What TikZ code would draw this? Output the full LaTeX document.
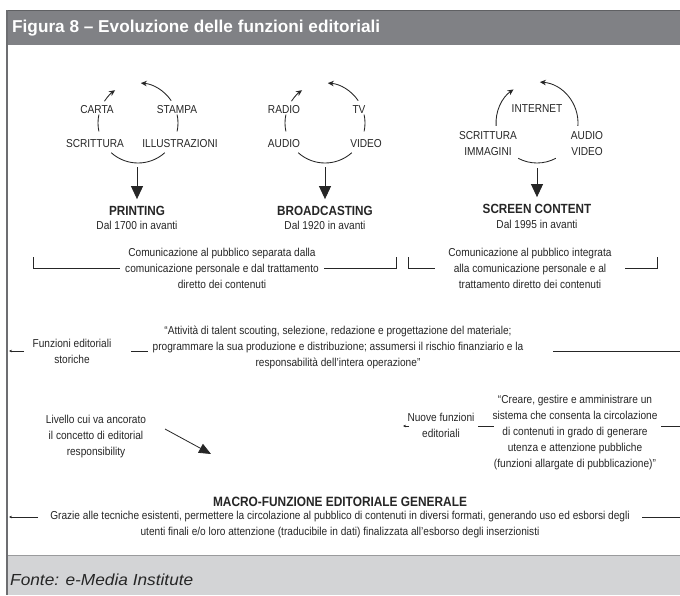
\documentclass[tikz,border=0pt]{standalone}
\usepackage{fontspec}
\setmainfont{Liberation Sans}
\newfontfamily\bodyfont{Liberation Sans}[FakeStretch=0.88]
\newfontfamily\footfont{Liberation Sans}[FakeStretch=1.08]
\usetikzlibrary{arrows.meta}
\definecolor{hdr}{HTML}{808185}
\definecolor{hdrtop}{HTML}{5F6063}
\definecolor{ftr}{HTML}{D3D4D6}
\definecolor{ftrtop}{HTML}{9A9B9D}
\definecolor{ink}{HTML}{262626}
\definecolor{brd}{HTML}{6D6E71}
\begin{document}
\begin{tikzpicture}[x=1pt,y=1pt,
  txt/.style={font=\bodyfont\fontsize{11.5}{16}\selectfont, text=ink, inner sep=0pt, align=center},
  ttl/.style={font=\bodyfont\bfseries\fontsize{13.3}{16}\selectfont, text=ink, inner sep=0pt},
  ln/.style={draw=ink, line width=0.6pt},
  cyc/.style={draw=ink, line width=0.85pt},
  cyca/.style={cyc, -{Stealth[length=6pt,width=5.5pt]}},
  bigarrow/.style={draw=ink, line width=0.9pt, -{Triangle[length=13pt,width=12pt]}},
  tiparrow/.style={ln, -{Stealth[length=3pt,width=2.6pt]}}]

\useasboundingbox (0,0) rectangle (680,-595);
\fill[white] (0,0) rectangle (680,-595);

% header and footer
\fill[hdr] (7,-10) rectangle (680,-45);
\draw[hdrtop, line width=0.8pt] (7,-10.4) -- (680,-10.4);
\fill[ftr] (7,-555) rectangle (680,-595);
\draw[ftrtop, line width=0.8pt] (7,-555) -- (680,-555);
\draw[brd, line width=1.2pt] (7,-10) -- (7,-595);

\node[anchor=base west, inner sep=0pt, text=white, font=\bfseries\fontsize{17.2}{18}\selectfont] (title) at (12,-32.5) {Figura 8 – Evoluzione delle funzioni editoriali};
\node[anchor=base west, inner sep=0pt, text=ink, font=\footfont\itshape\fontsize{16}{18}\selectfont] (fonte) at (10,-585) {Fonte: e-Media Institute};

% ---------- cycle 1: printing
\coordinate (c1) at (138,-123);
\node[txt] (carta) at (97,-110) {CARTA};
\node[txt] (stampa) at (177,-110) {STAMPA};
\node[txt] (scrit1) at (95,-144) {SCRITTURA};
\node[txt] (illu) at (180,-144) {ILLUSTRAZIONI};
\draw[cyca] ([shift={(34:40pt)}]c1) arc[start angle=34, end angle=86, radius=40pt];
\draw[cyca] ([shift={(147:40pt)}]c1) arc[start angle=147, end angle=125, radius=40pt];
\draw[cyc] ([shift={(168:40pt)}]c1) arc[start angle=168, end angle=192, radius=40pt];
\draw[cyc] ([shift={(-12:40pt)}]c1) arc[start angle=-12, end angle=12, radius=40pt];
\draw[cyc] ([shift={(-132:40pt)}]c1) arc[start angle=-132, end angle=-48, radius=40pt];
\node[ttl] (printing) at (137,-211) {PRINTING};
\node[txt] (dal1) at (137,-225) {Dal 1700 in avanti};
\coordinate (a1) at (137,-167);
\draw[bigarrow] (a1) -- ([yshift=7pt]printing.north);

% ---------- cycle 2: broadcasting
\coordinate (c2) at (325,-123);
\node[txt] (radio) at (284,-110) {RADIO};
\node[txt] (tv) at (359,-110) {TV};
\node[txt] (audio2) at (284,-144) {AUDIO};
\node[txt] (video2) at (366,-144) {VIDEO};
\draw[cyca] ([shift={(34:40pt)}]c2) arc[start angle=34, end angle=86, radius=40pt];
\draw[cyca] ([shift={(147:40pt)}]c2) arc[start angle=147, end angle=125, radius=40pt];
\draw[cyc] ([shift={(168:40pt)}]c2) arc[start angle=168, end angle=192, radius=40pt];
\draw[cyc] ([shift={(-12:40pt)}]c2) arc[start angle=-12, end angle=12, radius=40pt];
\draw[cyc] ([shift={(-132:40pt)}]c2) arc[start angle=-132, end angle=-48, radius=40pt];
\node[ttl] (broad) at (325,-211) {BROADCASTING};
\node[txt] (dal2) at (325,-225) {Dal 1920 in avanti};
\coordinate (a2) at (325,-167);
\draw[bigarrow] (a2) -- ([yshift=7pt]broad.north);

% ---------- cycle 3: screen content
\coordinate (c3) at (537,-123);
\node[txt] (internet) at (537,-109) {INTERNET};
\node[txt] (scrit3) at (488,-144) {SCRITTURA\\IMMAGINI};
\node[txt] (audio3) at (587,-144) {AUDIO\\VIDEO};
\draw[cyca] ([shift={(184:41pt)}]c3) arc[start angle=184, end angle=125, radius=41pt];
\draw[cyca] ([shift={(-4:41pt)}]c3) arc[start angle=-4, end angle=86, radius=41pt];
\draw[cyc] ([shift={(-118:40pt)}]c3) arc[start angle=-118, end angle=-62, radius=40pt];
\node[ttl] (screen) at (537,-209) {SCREEN CONTENT};
\node[txt] (dal3) at (537,-224) {Dal 1995 in avanti};
\coordinate (a3) at (537,-168);
\draw[bigarrow] (a3) -- ([yshift=7pt]screen.north);

% ---------- brackets
\node[txt] (sep) at (222,-268) {Comunicazione al pubblico separata dalla\\comunicazione personale e dal trattamento\\diretto dei contenuti};
\coordinate (b1l) at (33,-257);
\coordinate (b1m) at (120,-268);
\coordinate (b1n) at (324,-268);
\coordinate (b1r) at (396,-257);
\draw[ln] (b1l) |- (b1m);
\draw[ln] (b1n) -| (b1r);

\node[txt] (integ) at (530,-268) {Comunicazione al pubblico integrata\\alla comunicazione personale e al\\trattamento diretto dei contenuti};
\coordinate (b2l) at (408,-257);
\coordinate (b2m) at (435,-268);
\coordinate (b2n) at (625,-268);
\coordinate (b2r) at (657,-257);
\draw[ln] (b2l) |- (b2m);
\draw[ln] (b2n) -| (b2r);

% ---------- historical functions
\node[txt] (fes) at (72,-351) {Funzioni editoriali\\storiche};
\node[txt] (q1) at (338,-347) {“Attività di talent scouting, selezione, redazione e progettazione del materiale;\\programmare la sua produzione e distribuzione; assumersi il rischio finanziario e la\\responsabilità dell’intera operazione”};
\coordinate (h0) at (9,-351);
\coordinate (h1) at (24,-351);
\coordinate (h2) at (131,-351);
\coordinate (h3) at (148,-351);
\coordinate (h4) at (553,-351);
\coordinate (h5) at (680,-351);
\draw[tiparrow] (h1) -- (h0);
\draw[ln] (h2) -- (h3);
\draw[ln] (h4) -- (h5);

% ---------- new functions
\node[txt] (liv) at (96,-437) {Livello cui va ancorato\\il concetto di editorial\\responsibility};
\coordinate (l0) at (165,-429);
\coordinate (l1) at (211,-454);
\draw[draw=ink, line width=0.8pt, -{Triangle[length=12pt,width=10pt]}] (l0) -- (l1);

\node[txt] (nf) at (441,-425) {Nuove funzioni\\editoriali};
\node[txt] (q2) at (575,-433) {“Creare, gestire e amministrare un\\sistema che consenta la circolazione\\di contenuti in grado di generare\\utenza e attenzione pubbliche\\(funzioni allargate di pubblicazione)”};
\coordinate (n0) at (403,-426);
\coordinate (n1) at (409,-426);
\coordinate (n2) at (478,-426);
\coordinate (n3) at (494,-426);
\coordinate (n4) at (661,-426);
\coordinate (n5) at (680,-426);
\draw[tiparrow] (n1) -- (n0);
\draw[ln] (n2) -- (n3);
\draw[ln] (n4) -- (n5);

% ---------- macro function
\node[font=\bodyfont\bfseries\fontsize{13.5}{16}\selectfont, text=ink, inner sep=0pt] (macro) at (340,-502) {MACRO-FUNZIONE EDITORIALE GENERALE};
\node[txt] (grazie) at (340,-525) {Grazie alle tecniche esistenti, permettere la circolazione al pubblico di contenuti in diversi formati, generando uso ed esborsi degli\\utenti finali e/o loro attenzione (traducibile in dati) finalizzata all’esborso degli inserzionisti};
\coordinate (m0) at (9,-517);
\coordinate (m1) at (38,-517);
\coordinate (m2) at (642,-517);
\coordinate (m3) at (680,-517);
\draw[tiparrow] (m1) -- (m0);
\draw[ln] (m2) -- (m3);
\end{tikzpicture}
\end{document}
